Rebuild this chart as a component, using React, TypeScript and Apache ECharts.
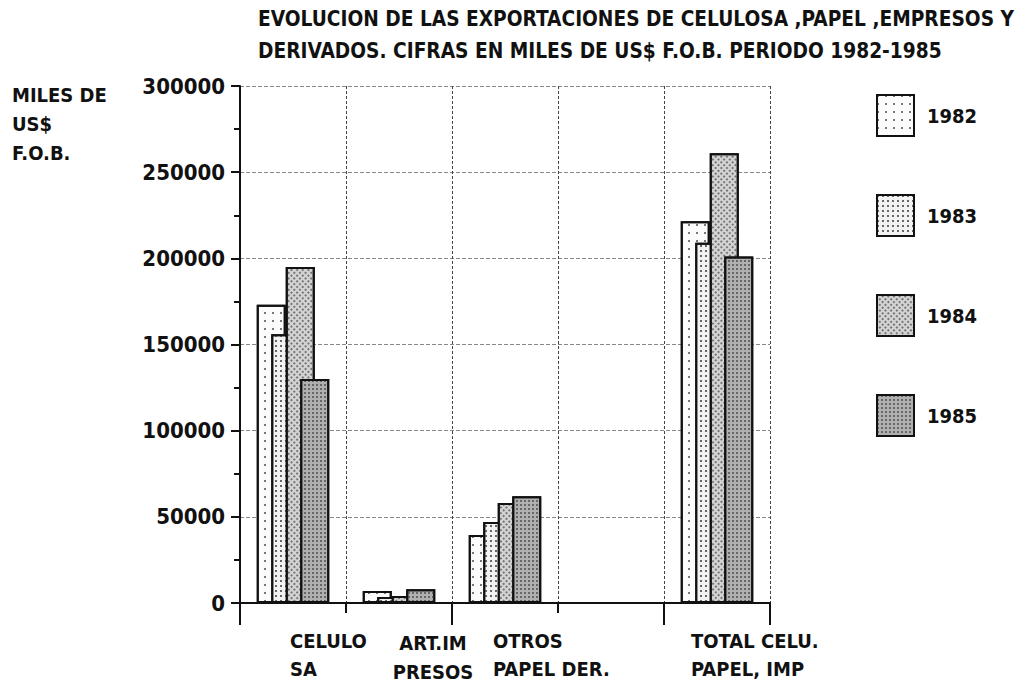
import React, { useEffect, useRef } from 'react';
import * as echarts from 'echarts';

const categories = ['CELULO\nSA', 'ART.IM\nPRESOS', 'OTROS\nPAPEL DER.', '', 'TOTAL CELU.\nPAPEL, IMP'];
const years = ['1982', '1983', '1984', '1985'];
const v1982 = [173000, 7000, 39500, null, 221500];
const v1983 = [156000, 3500, 47000, null, 209000];
const v1984 = [195000, 4000, 58000, null, 261000];
const v1985 = [130000, 8000, 62000, null, 201000];
const titleLines = [
  'EVOLUCION DE LAS EXPORTACIONES DE CELULOSA ,PAPEL ,EMPRESOS Y',
  'DERIVADOS. CIFRAS EN MILES DE US$ F.O.B. PERIODO 1982-1985',
];
const unitLines = ['MILES DE', 'US$', 'F.O.B.'];

const FONT = 'DejaVu Sans Condensed';
const WEIGHT = 'bold';
const INK = '#111';

const fills = [
  { color: '#fbfbfb', decal: { symbol: 'rect', symbolSize: 1, dashArrayX: [2, 6], dashArrayY: [2, 6], color: '#777', rotation: 0 } },
  { color: '#f2f2f2', decal: { symbol: 'rect', symbolSize: 1, dashArrayX: [2, 3], dashArrayY: [2, 3], color: '#666', rotation: 0 } },
  { color: '#d4d4d4', decal: { symbol: 'rect', symbolSize: 1, dashArrayX: [2, 2], dashArrayY: [2, 2], color: '#777', rotation: 0.785 } },
  { color: '#b0b0b0', decal: { symbol: 'rect', symbolSize: 1, dashArrayX: [2, 2], dashArrayY: [2, 2], color: '#666', rotation: 0 } },
];

export default function App() {
  const ref = useRef<HTMLDivElement>(null);
  useEffect(() => {
    if (!ref.current) return;
    const chart = echarts.init(ref.current, null, { renderer: 'svg' });
    const W = 150;
    const base = { fontSize: 20, fontFamily: FONT, fontWeight: WEIGHT, color: INK };
    const rich: any = {
      c0: { ...base, width: W, align: 'left', padding: [0, 0, 0, W - 6], lineHeight: 28 },
      c1: { ...base, width: 80, align: 'center', padding: [3, 0, 0, 68], lineHeight: 29 },
      c2: { ...base, width: W, align: 'left', padding: [0, 0, 0, W - 24], lineHeight: 28 },
      c3: { ...base, width: W, align: 'left', lineHeight: 28 },
      c4: { ...base, width: W, align: 'left', padding: [0, 0, 0, W - 52], lineHeight: 28 },
    };
    const seriesData = [v1982, v1983, v1984, v1985];
    chart.setOption({
      animation: false,
      backgroundColor: '#ffffff',
      title: [
        {
          text: titleLines.join('\n'),
          left: 258,
          top: 3,
          padding: 0,
          textStyle: { fontFamily: FONT, fontSize: 20.7, fontWeight: WEIGHT, color: INK, lineHeight: 32 },
        },
        {
          text: unitLines.join('\n'),
          left: 12,
          top: 80,
          padding: 0,
          textStyle: { fontFamily: FONT, fontSize: 20, fontWeight: WEIGHT, color: INK, lineHeight: 29 },
        },
      ],
      legend: {
        orient: 'vertical',
        left: 871,
        top: 89,
        itemWidth: 37,
        itemHeight: 41,
        itemGap: 57,
        icon: 'rect',
        data: years,
        textStyle: { fontFamily: FONT, fontSize: 20, fontWeight: WEIGHT, color: INK, padding: [0, 0, 0, 8] },
      },
      grid: { left: 240, right: 257, top: 86, bottom: 85, containLabel: false },
      xAxis: [
        {
          type: 'category',
          data: categories,
          axisLine: { show: true, lineStyle: { color: INK, width: 2 } },
          axisTick: { show: true, length: 10, lineStyle: { color: INK, width: 2 } },
          splitLine: { show: true, lineStyle: { color: '#444', width: 1, type: [3, 2] } },
          axisLabel: {
            interval: 0,
            margin: 24,
            formatter: (value: string, index: number) =>
              value ? value.split('\n').map((l) => `{c${index}|${l}}`).join('\n') : '',
            rich,
          },
        },
        {
          type: 'category',
          data: categories,
          position: 'bottom',
          axisLine: { show: false },
          axisTick: { show: true, length: 22, interval: (i: number) => i % 2 === 0, lineStyle: { color: INK, width: 2 } },
          axisLabel: { show: false },
          splitLine: { show: false },
        },
      ],
      yAxis: {
        type: 'value',
        min: 0,
        max: 300000,
        interval: 50000,
        axisLine: { show: true, lineStyle: { color: INK, width: 2 } },
        axisTick: { show: true, length: 9, lineStyle: { color: INK, width: 2 } },
        minorTick: { show: true, splitNumber: 2, length: 6, lineStyle: { color: INK, width: 2 } },
        splitLine: { show: true, lineStyle: { color: '#888', width: 1, type: [4, 2] } },
        axisLabel: { margin: 15, fontFamily: FONT, fontWeight: WEIGHT, fontSize: 22, color: INK, formatter: (v: number) => String(v) },
      },
      series: years.map((y, i) => ({
        name: y,
        type: 'bar',
        xAxisIndex: 0,
        data: seriesData[i],
        barWidth: 29,
        barGap: '-50%',
        itemStyle: { color: fills[i].color, decal: fills[i].decal, borderColor: INK, borderWidth: 2 },
      })),
    });
    return () => chart.dispose();
  }, []);
  return <div ref={ref} style={{ position: 'fixed', left: 0, top: 0, width: 1027, height: 688 }} />;
}
